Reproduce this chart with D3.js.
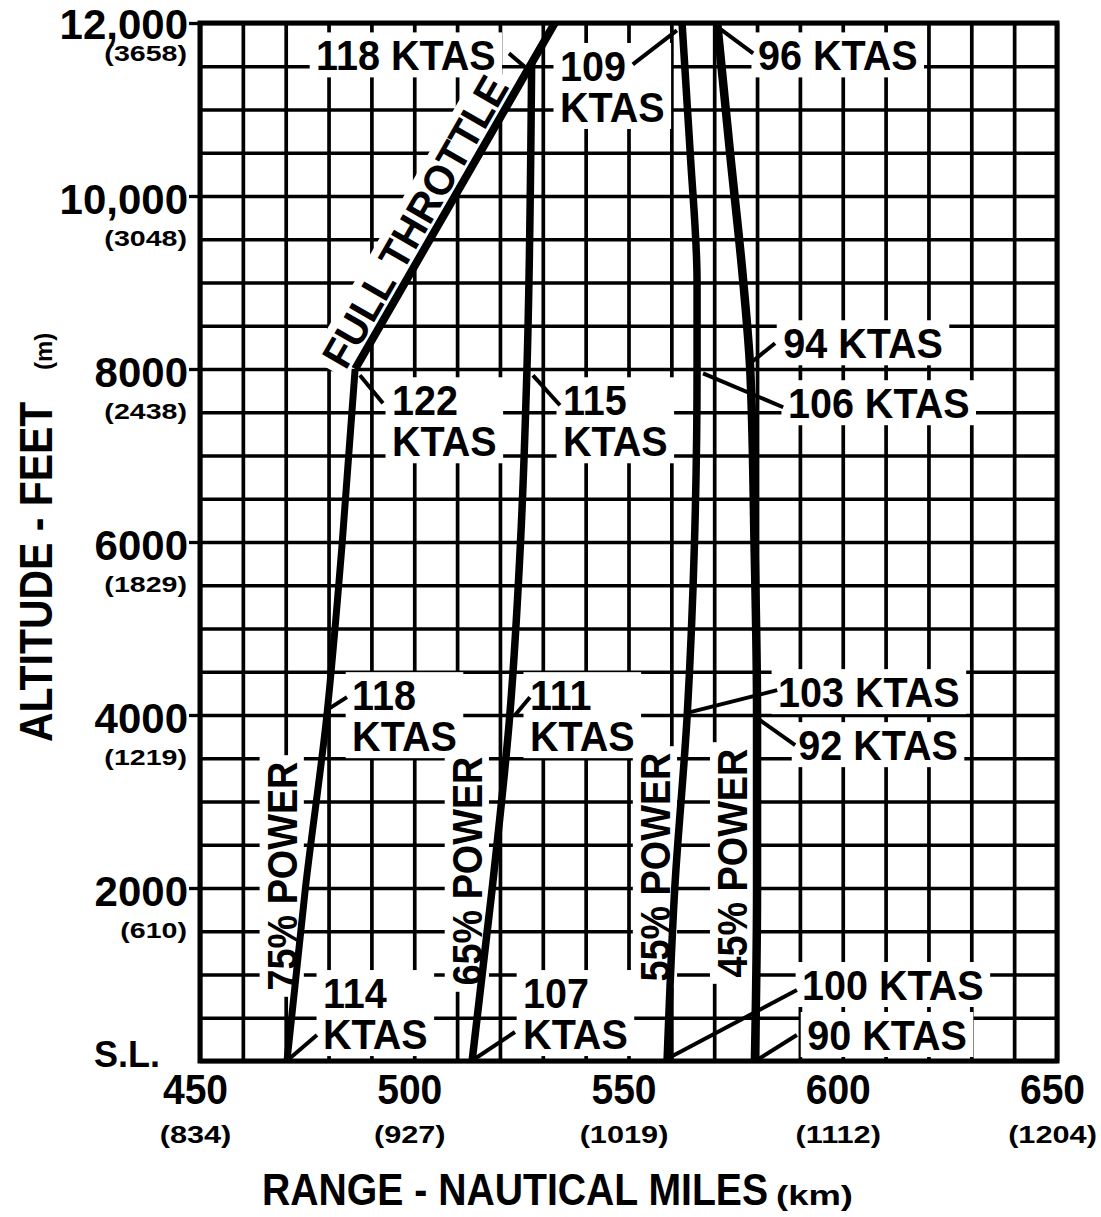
<!DOCTYPE html>
<html><head><meta charset="utf-8">
<script src="https://cdn.jsdelivr.net/npm/d3@7"></script>
<style>
body{margin:0;background:#fff}
text{font-family:"Liberation Sans",Arial,Helvetica,sans-serif;font-weight:bold;fill:#000}
</style>
</head><body>
<svg id="c" width="1101" height="1217"></svg>
<script>
// ---------- data ----------
const rangeTicks=[450,500,550,600,650];
const rangeKm=["(834)","(927)","(1019)","(1112)","(1204)"];
const altTicks=[0,2000,4000,6000,8000,10000,12000];
const altLabels=["S.L.","2000","4000","6000","8000","10,000","12,000"];
const altMeters=["","(610)","(1219)","(1829)","(2438)","(3048)","(3658)"];

// power curves: altitude (ft) vs range (nm)
const alt75=[0,2000,4000,6000,8000];
const range75=[470.3,474.6,479.6,483.2,486.2];
const altFT=[8000,10000,12000];
const rangeFT=[486.2,509.5,532.8];
const alt65=[0,2000,4000,6000,8000,11550];
const range65=[513.5,518.2,522.3,524.8,526.3,527.4];
const alt55=[0,2000,4000,6000,8000,9000,10500,12000];
const range55=[559.0,560.8,563.7,565.4,566.0,566.0,564.4,562.5];
const alt45=[0,2000,4000,6000,8000,9000,10500,12000];
const range45=[579.5,580.0,580.0,579.4,578.4,576.8,573.7,570.7];

// true airspeeds (KTAS)
const ktas75=[114,118,122];     // S.L., 4000, 8000
const ktas65=[107,111,115];
const ktas55=[100,103,106,109]; // S.L., 4000, 8000, 12000
const ktas45=[90,92,94,96];
const ktasFT=[118];             // 12000 full throttle

const powerNames=["75% POWER","65% POWER","55% POWER","45% POWER"];

// ---------- layout ----------
const svg=d3.select("#c");
const x=d3.scaleLinear().domain([450,650]).range([200,1057]);
const y=d3.scaleLinear().domain([0,12000]).range([1061,23]);
const plotW=x(650)-x(450), plotH=y(0)-y(12000);

const gridL=svg.append("g");
const maskL=svg.append("g");
const curveL=svg.append("g");
const leadL=svg.append("g");
const textL=svg.append("g");
const frameL=svg.append("g");

// grid through axes
gridL.append("g").attr("transform",`translate(0,${y(0)})`)
 .call(d3.axisBottom(x).tickValues(d3.range(450,651,10)).tickSize(-plotH).tickFormat(""))
 .call(g=>g.select(".domain").remove())
 .call(g=>g.selectAll("line").attr("stroke","#000").attr("stroke-width",3.7));
gridL.append("g").attr("transform",`translate(${x(450)},0)`)
 .call(d3.axisLeft(y).tickValues(d3.range(0,12001,500)).tickSize(-plotW).tickFormat(""))
 .call(g=>g.select(".domain").remove())
 .call(g=>g.selectAll("line").attr("stroke","#000").attr("stroke-width",3.3));

const FF='"Liberation Sans",Arial,sans-serif';

// x axis labels
const xa=frameL.append("g").attr("transform",`translate(-5,${y(0)})`)
 .call(d3.axisBottom(x).tickValues(rangeTicks).tickSize(0).tickPadding(0).tickFormat(d=>d));
xa.select(".domain").remove();
xa.selectAll(".tick text").attr("font-size",42).attr("y",43).attr("dy",0)
 .attr("transform","scale(0.93,1)").attr("fill","#000")
 .style("font-family",FF).style("font-weight","bold");
xa.selectAll(".tick").append("g").attr("transform","translate(0,82) scale(1.28,1)")
 .append("text").attr("text-anchor","middle").attr("font-size",24).text((d,i)=>rangeKm[i]);

// y axis labels
const ya=frameL.append("g").attr("transform",`translate(${x(450)},0)`)
 .call(d3.axisLeft(y).tickValues(altTicks).tickSize(11).tickPadding(1).tickFormat((d,i)=>altLabels[i]));
ya.select(".domain").remove();
ya.selectAll(".tick line").attr("stroke","#000").attr("stroke-width",3.3).attr("display",d=>d===0?"none":null);
ya.selectAll(".tick text").attr("fill","#000").style("font-family",FF).style("font-weight","bold")
 .attr("dy",0)
 .attr("font-size",d=>d===0?36:42)
 .attr("x",d=>d===0?-40:-12)
 .attr("y",d=>d===0?5:(d===12000?15:17));
ya.selectAll(".tick").filter(d=>d>0).append("g")
 .attr("transform",d=>`translate(-13,${d===12000?37:49}) scale(1.3,1)`)
 .append("text").attr("text-anchor","end").attr("font-size",22).text(d=>altMeters[altTicks.indexOf(d)]);

// axis titles
frameL.append("g").attr("transform","translate(52,742) rotate(-90) scale(0.89,1)")
 .append("text").attr("font-size",46).text("ALTITUDE - FEET");
frameL.append("g").attr("transform","translate(52,370) rotate(-90)")
 .append("text").attr("font-size",24).text("(m)");
frameL.append("g").attr("transform","translate(262,1205) scale(0.89,1)")
 .append("text").attr("font-size",44).text("RANGE - NAUTICAL MILES");
frameL.append("g").attr("transform","translate(776,1205) scale(1.35,1)")
 .append("text").attr("font-size",27).text("(km)");

// curves
const line=d3.line().x(d=>x(d[1])).y(d=>y(d[0])).curve(d3.curveMonotoneY);
const series=[[alt75,range75,7],[altFT,rangeFT,8],[alt65,range65,7.5],[alt55,range55,7.5],[alt45,range45,8.5]];
series.forEach(([a,r,w])=>{
  curveL.append("path").datum(a.map((v,i)=>[v,r[i]])).attr("d",line)
   .attr("fill","none").attr("stroke","#000").attr("stroke-width",w).attr("stroke-linejoin","round");
});

// KTAS labels
const SX=0.92, FS=43, LH=41;
function addLabel(lines,nm,alt){
  const tr=`translate(${x(nm)},${y(alt)}) scale(${SX},1)`;
  const g=textL.append("g").attr("transform",tr);
  const t=g.append("text").attr("font-size",FS);
  lines.forEach((s,i)=>t.append("tspan").attr("x",0).attr("y",i*LH).text(s));
  const bb=g.node().getBBox();
  maskL.append("rect").attr("transform",tr).attr("x",bb.x-7).attr("y",-31-7)
   .attr("width",bb.width+14).attr("height",(lines.length-1)*LH+31+14).attr("fill","#fff");
}
const labelSpecs=[
 [[ktasFT[0]+" KTAS"],477.1,11452],
 [[String(ktas55[3]),"KTAS"],534.0,11330],
 [[ktas45[3]+" KTAS"],580.2,11452],
 [[ktas45[2]+" KTAS"],586.1,8124],
 [[ktas55[2]+" KTAS"],587.2,7431],
 [[String(ktas75[2]),"KTAS"],494.8,7465],
 [[String(ktas65[2]),"KTAS"],534.7,7465],
 [[String(ktas75[1]),"KTAS"],485.5,4056],
 [[String(ktas65[1]),"KTAS"],527.0,4056],
 [[ktas55[1]+" KTAS"],584.9,4091],
 [[ktas45[1]+" KTAS"],589.6,3478],
 [[String(ktas75[0]),"KTAS"],478.7,612],
 [[String(ktas65[0]),"KTAS"],525.4,612],
 [[ktas55[0]+" KTAS"],590.5,705],
 [[ktas45[0]+" KTAS"],591.7,127]
];
labelSpecs.forEach(s=>addLabel(...s));

// leader lines [from nm, alt, to nm, alt]
const leaders=[
 [522.1,11649,526.8,11452],
 [551.0,11521,561.3,11914],
 [579.1,11648,570.9,11949],
 [578.4,8066,584.2,8297],
 [567.4,7950,586.1,7558],
 [487.3,7927,492.7,7604],
 [527.7,7927,534.0,7581],
 [480.3,4079,484.3,4206],
 [523.5,3998,527.0,4206],
 [564.4,4033,584.7,4287],
 [580.0,3964,588.9,3652],
 [470.5,12,477.3,300],
 [513.7,12,523.5,335],
 [558.5,12,589.3,820],
 [580.0,12,589.3,300]
];
leadL.selectAll("line").data(leaders).join("line")
 .attr("x1",d=>x(d[0])).attr("y1",d=>y(d[1])).attr("x2",d=>x(d[2])).attr("y2",d=>y(d[3]))
 .attr("stroke","#000").attr("stroke-width",4);

// rotated labels
function addRot(txt,px,py,ang,fs,sx,dy){
  const tr=`translate(${px},${py}) rotate(${ang}) scale(${sx},1)`;
  const g=textL.append("g").attr("transform",tr);
  g.append("text").attr("text-anchor","middle").attr("font-size",fs).attr("y",dy).text(txt);
  const bb=g.node().getBBox();
  maskL.append("rect").attr("transform",tr).attr("x",bb.x-7).attr("y",dy-0.72*fs-7)
   .attr("width",bb.width+14).attr("height",0.72*fs+14).attr("fill","#fff");
}
const powerPos=[[472.6,2138],[515.8,2196],[559.7,2242],[577.7,2288]];
powerNames.forEach((n,i)=>addRot(n,x(powerPos[i][0]),y(powerPos[i][1]),-90,42,0.9,0));

// FULL THROTTLE along its line
{
  const p1=[x(rangeFT[0]),y(altFT[0])], p2=[x(rangeFT[2]),y(altFT[2])];
  const ang=Math.atan2(p2[1]-p1[1],p2[0]-p1[0])*180/Math.PI;
  const a=9580, t=(a-altFT[0])/(altFT[2]-altFT[0]);
  const nm=rangeFT[0]+t*(rangeFT[2]-rangeFT[0]);
  addRot("FULL THROTTLE",x(nm),y(a),ang,42,0.96,-7);
}

// frame
frameL.append("rect").attr("x",x(450)).attr("y",y(12000)).attr("width",plotW).attr("height",plotH)
 .attr("fill","none").attr("stroke","#000").attr("stroke-width",5);
</script>
</body></html>
